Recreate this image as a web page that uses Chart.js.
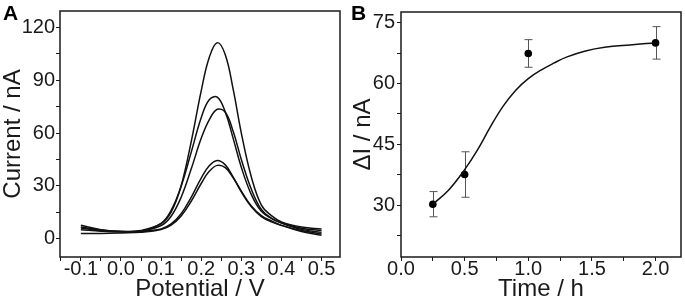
<!DOCTYPE html>
<html>
<head>
<meta charset="utf-8">
<script src="https://cdn.jsdelivr.net/npm/chart.js@4"></script>
<style>
  body { margin: 0; background: #fff; }
  #wrap { position: relative; width: 685px; height: 301px; }
  canvas { position: absolute; top: 0; }
  #chartA { left: 0; }
  #chartB { left: 343px; }
  .lbl { position: absolute; font: bold 21px "Liberation Sans", Arial, sans-serif; line-height: 21px; color: #000; }
</style>
</head>
<body>
<div id="wrap">
  <canvas id="chartA" width="343" height="301" style="width:343px;height:301px"></canvas>
  <canvas id="chartB" width="342" height="301" style="width:342px;height:301px"></canvas>
  <div class="lbl" style="left:3px;top:2px">A</div>
  <div class="lbl" style="left:351px;top:2px">B</div>
</div>
<script>
// panel A : DPV curves (potential in V, current in nA)
const potential = [-0.1, -0.05, 0, 0.05, 0.1, 0.125, 0.15, 0.175, 0.2, 0.22, 0.24, 0.26, 0.28, 0.3, 0.325, 0.35, 0.375, 0.4, 0.45, 0.5];
const curve1 = [6.0, 4.6, 4.0, 4.3, 8.5, 15, 30, 55, 84, 103, 111.4, 104.5, 84.5, 60, 35, 19, 13, 9.5, 6.6, 5.4];
const curve2 = [7.5, 5.0, 4.0, 4.6, 8.6, 16, 29.7, 49, 68.7, 78.9, 80.4, 72, 56.7, 40.5, 25, 15.5, 11.5, 9, 5.9, 4.5];
const curve3 = [5.0, 4.2, 3.8, 4.2, 7.4, 12.7, 23.5, 39.5, 57, 67.5, 73.5, 71.8, 60.7, 45, 28, 16.5, 11.5, 8.8, 5.2, 3.5];
const curve4 = [6.5, 4.8, 4.0, 4.1, 5.5, 8.3, 14.1, 23.4, 34.4, 41.4, 44.4, 41.9, 34.8, 26.5, 18, 12.5, 9.5, 7.5, 4.6, 2.6];
const curve5 = [2.8, 2.9, 3.2, 3.6, 5.1, 7.6, 12.8, 21.2, 31.3, 38.2, 41.6, 40.3, 34.4, 27, 18.5, 13, 10, 7.5, 4.0, 1.8];

// panel B : delta I vs time
const times = [0.25, 0.5, 1.0, 2.0];
const deltaI = [30.3, 37.6, 67.4, 70.0];
const deltaErr = [3.1, 5.6, 3.4, 4.0];
const fitTime = [0.25, 0.375, 0.5, 0.6, 0.7, 0.8, 0.9, 1.0, 1.1, 1.2, 1.3, 1.45, 1.6, 1.8, 2.0];
const fitI = [30.3, 33.8, 38.8, 43.6, 49.2, 54.3, 58.3, 61.2, 63.3, 65.0, 66.5, 68.0, 68.9, 69.5, 70.0];

const FONT = '"Liberation Sans", Arial, sans-serif';
const INK = '#1a1a1a';

function isMult(v, every) {
  const q = v / every;
  return Math.abs(q - Math.round(q)) < 1e-6;
}

function xy(xs, ys) {
  return xs.map((x, i) => ({ x: x, y: ys[i] }));
}

// box round the plot area
const frame = {
  id: 'frame',
  afterDraw(chart) {
    const { ctx, chartArea: a } = chart;
    ctx.save();
    ctx.strokeStyle = INK;
    ctx.lineWidth = 1.5;
    ctx.strokeRect(a.left, a.top, a.right - a.left, a.bottom - a.top);
    ctx.restore();
  }
};

// error bars for panel B
const errorBars = {
  id: 'errorBars',
  beforeDatasetsDraw(chart) {
    const { ctx, scales: { x, y } } = chart;
    ctx.save();
    ctx.strokeStyle = '#555';
    ctx.lineWidth = 1;
    times.forEach((t, i) => {
      const px = Math.round(x.getPixelForValue(t)) + 0.5;
      const top = y.getPixelForValue(deltaI[i] + deltaErr[i]);
      const bot = y.getPixelForValue(deltaI[i] - deltaErr[i]);
      ctx.beginPath();
      ctx.moveTo(px, top); ctx.lineTo(px, bot);
      ctx.moveTo(px - 4, top); ctx.lineTo(px + 4, top);
      ctx.moveTo(px - 4, bot); ctx.lineTo(px + 4, bot);
      ctx.stroke();
    });
    ctx.restore();
  }
};

function axis(opts) {
  return {
    type: 'linear',
    min: opts.min,
    max: opts.max,
    afterFit: opts.fit,
    border: { display: false },
    grid: { drawOnChartArea: false, drawTicks: true, tickLength: 4, color: INK, lineWidth: 1 },
    ticks: {
      stepSize: opts.step,
      includeBounds: false,
      autoSkip: false,
      maxRotation: 0,
      padding: opts.pad,
      color: INK,
      font: { family: FONT, size: 20, lineHeight: 1 },
      callback: (v) => isMult(v, opts.every) ? v.toFixed(opts.dec) : ''
    },
    title: {
      display: true,
      text: opts.title,
      color: INK,
      padding: opts.titlePad,
      font: { family: FONT, size: 24, lineHeight: 0.95 }
    }
  };
}

const lineStyle = {
  showLine: true,
  pointRadius: 0,
  borderColor: '#111',
  borderWidth: 1.5,
  tension: 0.4,
  fill: false
};

const config_A = {
  type: 'scatter',
  data: {
    datasets: [curve1, curve2, curve3, curve4, curve5].map((c) => Object.assign({ data: xy(potential, c) }, lineStyle))
  },
  options: {
    responsive: false,
    animation: false,
    layout: { padding: { left: 0, top: 5, right: 3, bottom: 0 } },
    plugins: { legend: { display: false }, tooltip: { enabled: false } },
    scales: {
      x: axis({ min: -0.152, max: 0.546, step: 0.05, every: 0.1, dec: 1, pad: -2, title: 'Potential / V',
                titlePad: 0, fit: (s) => { s.height = 44; } }),
      y: axis({ min: -10.5, max: 129.4, step: 15, every: 30, dec: 0, pad: 1, title: 'Current / nA',
                titlePad: { top: 2 }, fit: (s) => { s.width = 60; } })
    }
  },
  plugins: [frame]
};

const config_B = {
  type: 'scatter',
  data: {
    datasets: [
      Object.assign({ data: xy(fitTime, fitI) }, lineStyle),
      {
        data: xy(times, deltaI),
        showLine: false,
        pointRadius: 3.8,
        pointBackgroundColor: '#000',
        pointBorderColor: '#000',
        pointBorderWidth: 0
      }
    ]
  },
  options: {
    responsive: false,
    animation: false,
    layout: { padding: { left: 0, top: 5, right: 2, bottom: 0 } },
    plugins: { legend: { display: false }, tooltip: { enabled: false } },
    scales: {
      x: axis({ min: 0, max: 2.2, step: 0.25, every: 0.5, dec: 1, pad: -2, title: 'Time / h',
                titlePad: 0, fit: (s) => { s.height = 44; } }),
      y: axis({ min: 17.3, max: 77.6, step: 7.5, every: 15, dec: 0, pad: 2, title: 'ΔI / nA',
                titlePad: { top: 9 }, fit: (s) => { s.width = 58; } })
    }
  },
  plugins: [errorBars, frame]
};

const chartA = new Chart(document.getElementById('chartA'), config_A);
const chartB = new Chart(document.getElementById('chartB'), config_B);
</script>
</body>
</html>
